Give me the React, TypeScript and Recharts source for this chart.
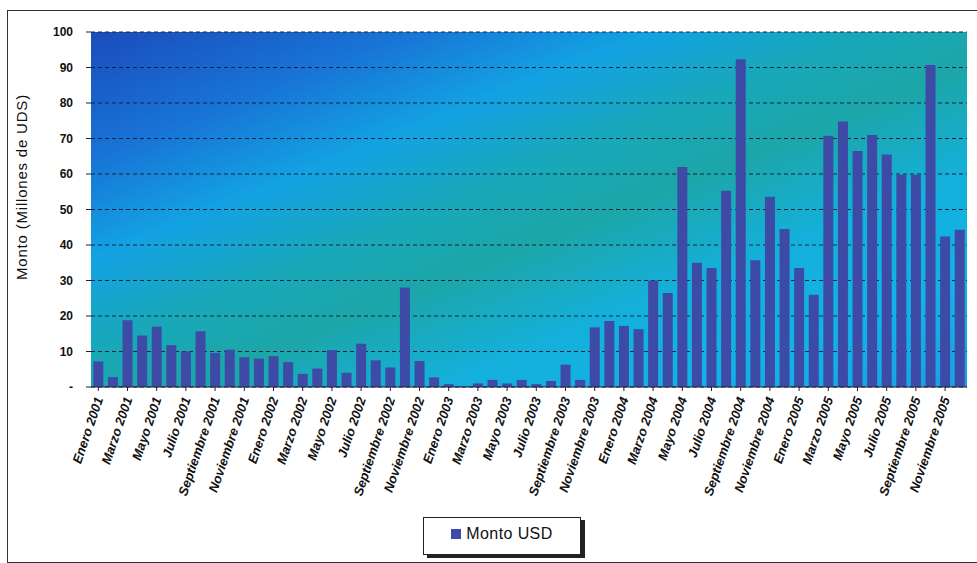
import { BarChart, Bar, XAxis, YAxis, CartesianGrid, Legend } from "recharts";

const MONTHS = [
  "Enero",
  "Febrero",
  "Marzo",
  "Abril",
  "Mayo",
  "Junio",
  "Julio",
  "Agosto",
  "Septiembre",
  "Octubre",
  "Noviembre",
  "Diciembre",
];

const YEARS = [2001, 2002, 2003, 2004, 2005];

// Monto mensual en millones de USD, enero 2001 .. diciembre 2005
const MONTO_USD = [
  // 2001
  7.2, 2.8, 18.8, 14.5, 17, 11.8, 10, 15.7, 9.6, 10.5, 8.4, 8,
  // 2002
  8.7, 7, 3.7, 5.2, 10.4, 4, 12.2, 7.5, 5.5, 28, 7.3, 2.7,
  // 2003
  0.8, 0.2, 1, 2, 1, 2, 0.8, 1.7, 6.3, 2, 16.8, 18.6,
  // 2004
  17.2, 16.3, 30, 26.5, 62, 35, 33.5, 55.3, 92.3, 35.7, 53.6, 44.5,
  // 2005
  33.5, 26, 70.8, 74.8, 66.5, 71, 65.5, 59.8, 59.8, 90.7, 42.4, 44.3,
];

const Y_TICKS = [0, 10, 20, 30, 40, 50, 60, 70, 80, 90, 100];

const BAR_COLOR = "#3d4ba6";

const data = YEARS.flatMap((year, yi) =>
  MONTHS.map((month, mi) => ({
    mes: `${month} ${year}`,
    monto: MONTO_USD[yi * 12 + mi],
  }))
);

const MonthTick = (props: any) => {
  const { x, y, payload } = props;
  const tx = x + 5;
  const ty = y + 6;
  return (
    <text
      x={tx}
      y={ty}
      transform={`rotate(-71 ${tx} ${ty})`}
      textAnchor="end"
      fontFamily="'Liberation Sans', Arial, sans-serif"
      fontStyle="italic"
      fontWeight="bold"
      fontSize={13}
      fill="#111"
    >
      {payload.value}
    </text>
  );
};

const LegendBox = () => (
  <div style={{ display: "flex", justifyContent: "flex-start" }}>
    <div
      style={{
        marginLeft: 423,
        width: 158,
        height: 38,
        boxSizing: "border-box",
        border: "1px solid #222",
        boxShadow: "4px 3px 0 #222",
        background: "#fff",
        display: "flex",
        alignItems: "center",
        justifyContent: "center",
        gap: 5,
        paddingBottom: 4,
        fontFamily: "'Liberation Sans', Arial, sans-serif",
        fontSize: 16,
        letterSpacing: 0.4,
        color: "#111",
      }}
    >
      <span
        style={{
          display: "inline-block",
          width: 10,
          height: 10,
          background: BAR_COLOR,
        }}
      />
      Monto USD
    </div>
  </div>
);

export default function App() {
  return (
    <div
      style={{
        position: "absolute",
        top: 0,
        left: 0,
        width: 977,
        height: 563,
        background: "#fff",
        overflow: "hidden",
      }}
    >
      <div
        style={{
          position: "absolute",
          left: 7,
          top: 10,
          width: 975,
          height: 551,
          borderTop: "1px solid #333",
          borderLeft: "1px solid #333",
          borderBottom: "2px solid #333",
        }}
      />
      <BarChart
        width={977}
        height={563}
        data={data}
        margin={{ top: 32, right: 10, bottom: 8, left: 0 }}
        barCategoryGap="16%"
      >
        <defs>
          <linearGradient id="plotBg" x1="0" y1="0" x2="1" y2="1">
            <stop offset="0" stopColor="#1b4cbc" />
            <stop offset="0.18" stopColor="#1874d6" />
            <stop offset="0.32" stopColor="#13a2e2" />
            <stop offset="0.45" stopColor="#18a8b8" />
            <stop offset="0.55" stopColor="#1ca6a8" />
            <stop offset="0.7" stopColor="#14b0dc" />
            <stop offset="0.85" stopColor="#12b2e8" />
            <stop offset="1" stopColor="#1aa0e4" />
          </linearGradient>
        </defs>
        <CartesianGrid
          vertical={false}
          stroke="#1b2238"
          strokeDasharray="4 3"
          fill="url(#plotBg)"
          fillOpacity={1}
        />
        <XAxis
          dataKey="mes"
          interval={1}
          height={130}
          tick={<MonthTick />}
          tickSize={4}
          axisLine={{ stroke: "#1b2238" }}
          tickLine={{ stroke: "#1b2238" }}
        />
        <YAxis
          domain={[0, 100]}
          ticks={Y_TICKS}
          width={91}
          tickSize={5}
          tickMargin={13}
          axisLine={false}
          tickLine={{ stroke: "#1b2238" }}
          tickFormatter={(v: number) => (v === 0 ? "-" : String(v))}
          tick={{
            fill: "#111",
            fontSize: 12,
            fontWeight: "bold",
            fontFamily: "'Liberation Sans', Arial, sans-serif",
          }}
          label={{
            content: () => (
              <text
                x={21}
                y={187}
                transform="rotate(-90 21 187)"
                textAnchor="middle"
                dominantBaseline="central"
                fontFamily="'Liberation Sans', Arial, sans-serif"
                fontSize={15}
                letterSpacing={0.8}
                fill="#111"
              >
                Monto (Millones de UDS)
              </text>
            ),
          }}
        />
        <Legend verticalAlign="bottom" content={<LegendBox />} />
        <Bar
          dataKey="monto"
          name="Monto USD"
          fill={BAR_COLOR}
          isAnimationActive={false}
        />
      </BarChart>
    </div>
  );
}
